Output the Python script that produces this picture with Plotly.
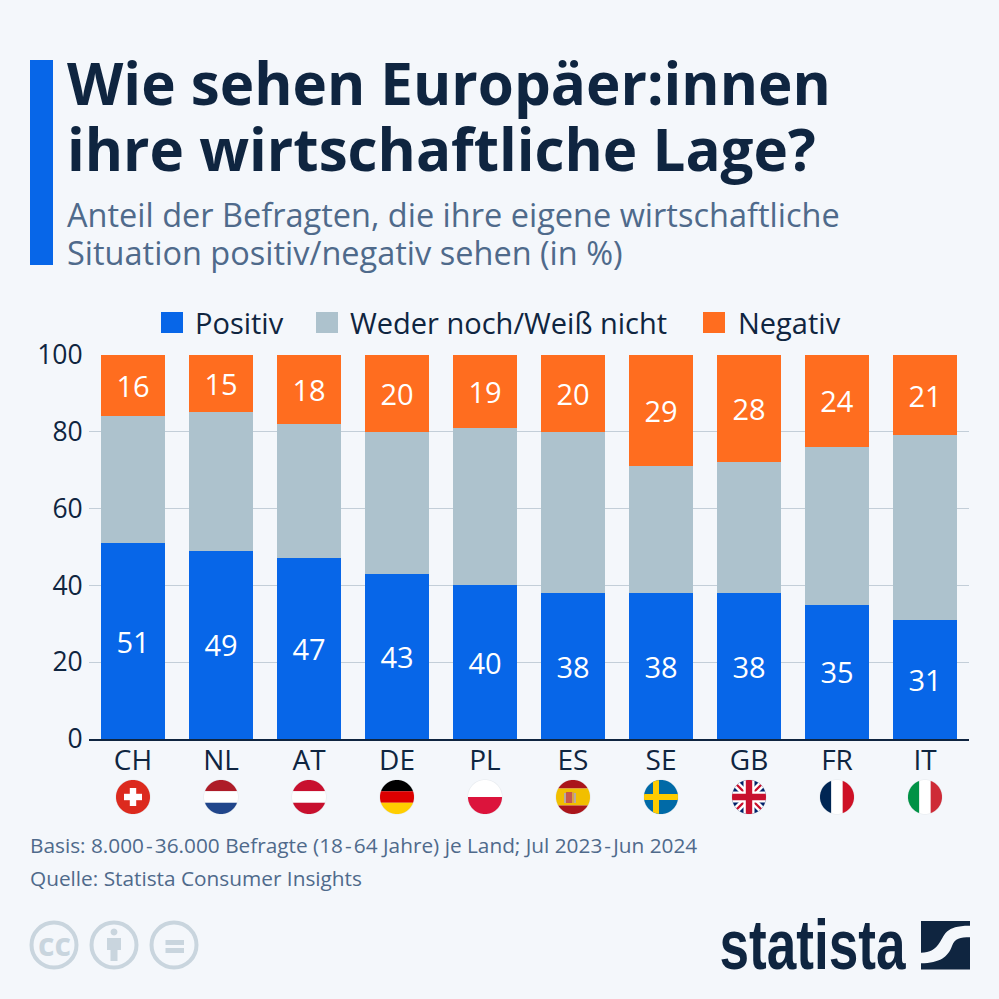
import math
import plotly.graph_objects as go

# ---- data ----
countries = ["CH", "NL", "AT", "DE", "PL", "ES", "SE", "GB", "FR", "IT"]
positiv = [51, 49, 47, 43, 40, 38, 38, 38, 35, 31]
weder = [33, 36, 35, 37, 41, 42, 33, 34, 41, 48]
negativ = [16, 15, 18, 20, 19, 20, 29, 28, 24, 21]
y_ticks = [0, 20, 40, 60, 80, 100]
series_names = ["Positiv", "Weder noch/Weiß nicht", "Negativ"]

# ---- style ----
W = H = 999
BG = "#f4f7fb"
BLUE = "#0766e8"
GREY = "#adc2cd"
ORANGE = "#ff6d1f"
NAVY = "#0f2540"
SLATE = "#4f6a8b"
GRID = "#c3ced8"
ICON = "#c9d5de"
FONT = "Open Sans"


def X(px):
    return px / W


def Y(py):
    return 1 - py / H


def path_of(pts):
    return "M" + "L".join(f"{X(x):.5f},{Y(y):.5f}" for x, y in pts) + "Z"


def circle_pts(cx, cy, r, n=72):
    return [(cx + r * math.cos(2 * math.pi * i / n), cy + r * math.sin(2 * math.pi * i / n)) for i in range(n)]


def clip(poly, cx, cy, r):
    """Clip a polygon (local px) to the flag circle."""
    ring = circle_pts(cx, cy, r)
    out = poly
    for i in range(len(ring)):
        a, b = ring[i], ring[(i + 1) % len(ring)]
        side = lambda p: (b[0] - a[0]) * (p[1] - a[1]) - (b[1] - a[1]) * (p[0] - a[0])
        new = []
        for j in range(len(out)):
            p, q = out[j], out[(j + 1) % len(out)]
            sp, sq = side(p), side(q)
            if sp >= 0:
                new.append(p)
            if sp * sq < 0:
                t = sp / (sp - sq)
                new.append((p[0] + t * (q[0] - p[0]), p[1] + t * (q[1] - p[1])))
        out = new
        if not out:
            break
    return out


shapes = []
annos = []


def rect(x0, y0, x1, y1, color):
    shapes.append(dict(type="rect", xref="paper", yref="paper", x0=X(x0), x1=X(x1), y0=Y(y0), y1=Y(y1),
                       fillcolor=color, line_width=0, layer="above"))


def poly(pts, color):
    if pts:
        shapes.append(dict(type="path", xref="paper", yref="paper", path=path_of(pts),
                           fillcolor=color, line_width=0, layer="above"))


def text(px, py, s, size, color, anchor="left", bold=False, family=FONT):
    annos.append(dict(xref="paper", yref="paper", x=X(px), y=Y(py), text=f"<b>{s}</b>" if bold else s,
                      showarrow=False, xanchor=anchor, yanchor="middle", align=anchor,
                      font=dict(family=family, size=size, color=color), borderpad=0, borderwidth=0))


def flag(code, cx, cy, r=17):
    def band(x0, y0, x1, y1, color):
        poly(clip([(cx + x0, cy + y0), (cx + x1, cy + y0), (cx + x1, cy + y1), (cx + x0, cy + y1)], cx, cy, r), color)

    def hstripes(colors, weights=None):
        weights = weights or [1] * len(colors)
        tot = sum(weights)
        y = -r
        for c, w in zip(colors, weights):
            h = 2 * r * w / tot
            band(-r, y, r, y + h, c)
            y += h

    def vstripes(colors):
        for i, c in enumerate(colors):
            band(-r + 2 * r * i / 3, -r, -r + 2 * r * (i + 1) / 3, r, c)

    def diag(x0, y0, x1, y1, w, color):
        dx, dy = x1 - x0, y1 - y0
        L = math.hypot(dx, dy)
        nx, ny = -dy / L * w / 2, dx / L * w / 2
        poly(clip([(cx + x0 + nx, cy + y0 + ny), (cx + x1 + nx, cy + y1 + ny),
                   (cx + x1 - nx, cy + y1 - ny), (cx + x0 - nx, cy + y0 - ny)], cx, cy, r), color)

    poly(circle_pts(cx, cy, r + 0.6), "#e6eaee")
    if code == "CH":
        band(-r, -r, r, r, "#dc2a1e")
        band(-9, -3.2, 9, 3.2, "#ffffff")
        band(-3.2, -9, 3.2, 9, "#ffffff")
    elif code == "NL":
        hstripes(["#ae1c28", "#ffffff", "#21468b"])
    elif code == "AT":
        hstripes(["#c8102e", "#ffffff", "#c8102e"])
    elif code == "DE":
        hstripes(["#000000", "#dd0000", "#ffce00"])
    elif code == "PL":
        hstripes(["#ffffff", "#dc143c"])
    elif code == "ES":
        hstripes(["#aa151b", "#f1bf00", "#aa151b"], [1, 2, 1])
        band(-7, -5, -1, 6, "#c8574a")
        band(-1, -5, 1, 6, "#d9a441")
        band(-9, -4, -7, 6, "#b9a9a0")
        band(1, -4, 3, 6, "#b9a9a0")
    elif code == "SE":
        band(-r, -r, r, r, "#006aa7")
        band(-r, -3, r, 3, "#fecc00")
        band(-8, -r, -2, r, "#fecc00")
    elif code == "GB":
        band(-r, -r, r, r, "#012169")
        diag(-r, -r, r, r, 7, "#ffffff")
        diag(-r, r, r, -r, 7, "#ffffff")
        diag(-r, -r, r, r, 2.4, "#c8102e")
        diag(-r, r, r, -r, 2.4, "#c8102e")
        band(-r, -5.5, r, 5.5, "#ffffff")
        band(-5.5, -r, 5.5, r, "#ffffff")
        band(-r, -3.2, r, 3.2, "#c8102e")
        band(-3.2, -r, 3.2, r, "#c8102e")
    elif code == "FR":
        vstripes(["#002654", "#ffffff", "#ce1126"])
    elif code == "IT":
        vstripes(["#009246", "#ffffff", "#ce2b37"])


# header
rect(30, 60, 53, 265, BLUE)
text(67, 82.5, "Wie sehen Europäer:innen", 58.3, NAVY, bold=True)
text(67, 148, "ihre wirtschaftliche Lage?", 58.3, NAVY, bold=True)
text(67, 214, "Anteil der Befragten, die ihre eigene wirtschaftliche", 32.5, SLATE)
text(67, 252.5, "Situation positiv/negativ sehen (in %)", 32.5, SLATE)

# legend
legend_items = [(161, 195, BLUE), (316, 350, GREY), (703, 738, ORANGE)]
for (sq, tx, c), name in zip(legend_items, series_names):
    rect(sq, 312, sq + 22, 333, c)
    text(tx - 0.5, 322.5, name, 29, NAVY)

# flags
for i, code in enumerate(countries):
    flag(code, 133 + 88 * i, 797)

# footer
text(30, 845, "Basis: 8.000\u200a-\u200a36.000 Befragte (18\u200a-\u200a64 Jahre) je Land; Jul 2023\u200a-\u200aJun 2024", 20.8, SLATE)
text(30, 878, "Quelle: Statista Consumer Insights", 20.8, SLATE)

# cc icons
for cx in (54, 114, 174):
    shapes.append(dict(type="circle", xref="paper", yref="paper", x0=X(cx - 22.5), x1=X(cx + 22.5),
                       y0=Y(945 - 22.5), y1=Y(945 + 22.5), line=dict(color=ICON, width=4), fillcolor="rgba(0,0,0,0)"))
text(54, 943, "cc", 32, ICON, anchor="center", bold=True)
poly(circle_pts(114, 932, 3.4), ICON)
rect(107, 938, 121, 950, ICON)
rect(110.5, 950, 117.5, 961, ICON)
rect(165.5, 940, 184, 945, ICON)
rect(165.5, 948, 184, 953, ICON)

# logo
text(812.5, 944.5, "statista", 70, NAVY, anchor="center", bold=True, family="Liberation Sans")
rect(921, 921, 970, 969.5, NAVY)
ribbon = [(970, 925.7), (945, 925.5), (945, 935), (940, 942), (935, 950), (930, 952.5), (921, 952.7),
          (921, 963.3), (940, 963), (948, 957), (952, 946), (955, 938), (960, 937.5), (970, 937.3)]
p = ribbon
ribbon_path = (f"M{X(p[0][0]):.5f},{Y(p[0][1]):.5f}"
               + "".join("C" + " ".join(f"{X(a):.5f},{Y(b):.5f}" for a, b in p[i:i + 3]) for i in (1, 4))
               + f"L{X(p[7][0]):.5f},{Y(p[7][1]):.5f}"
               + "".join("C" + " ".join(f"{X(a):.5f},{Y(b):.5f}" for a, b in p[i:i + 3]) for i in (8, 11))
               + "Z")
shapes.append(dict(type="path", xref="paper", yref="paper", path=ribbon_path, fillcolor=BG, line_width=0, layer="above"))

fig = go.Figure()
for name, vals, color, show in [(series_names[0], positiv, BLUE, True),
                                (series_names[1], weder, GREY, False),
                                (series_names[2], negativ, ORANGE, True)]:
    fig.add_trace(go.Bar(
        name=name, x=countries, y=vals, marker=dict(color=color, line_width=0),
        text=vals if show else None, textposition="inside" if show else "none",
        insidetextanchor="middle", textangle=0, cliponaxis=False,
        textfont=dict(family=FONT, size=29, color="#ffffff"),
        hoverinfo="x+y+name",
    ))

fig.update_layout(
    width=W, height=H, autosize=False, margin=dict(l=0, r=0, t=0, b=0, autoexpand=False),
    paper_bgcolor=BG, plot_bgcolor=BG, barmode="stack", bargap=1 - 64 / 88,
    showlegend=False, shapes=shapes, annotations=annos,
    font=dict(family=FONT, color=NAVY),
    xaxis=dict(domain=[X(89), X(969)], type="category", categoryorder="array", categoryarray=countries,
               anchor="y", showline=True, linecolor=NAVY, linewidth=1.5, showgrid=False, ticks="",
               tickfont=dict(family=FONT, size=28, color=NAVY), ticklabelstandoff=-4, zeroline=False),
    yaxis=dict(domain=[Y(739), Y(354.8)], range=[0, 100], tickvals=y_ticks, ticks="outside", ticklen=0,
               gridcolor=GRID, gridwidth=1.3, showline=False, zeroline=False,
               tickfont=dict(family=FONT, size=26.5, color=NAVY)),
)

post = """
document.body.style.margin='0';
document.querySelectorAll('.annotation-text').forEach(function(t){
  if(t.textContent==='statista'){t.setAttribute('textLength','186');t.setAttribute('lengthAdjust','spacingAndGlyphs');}
});
"""
fig.write_html("out.html", post_script=post, config={"displayModeBar": False})
